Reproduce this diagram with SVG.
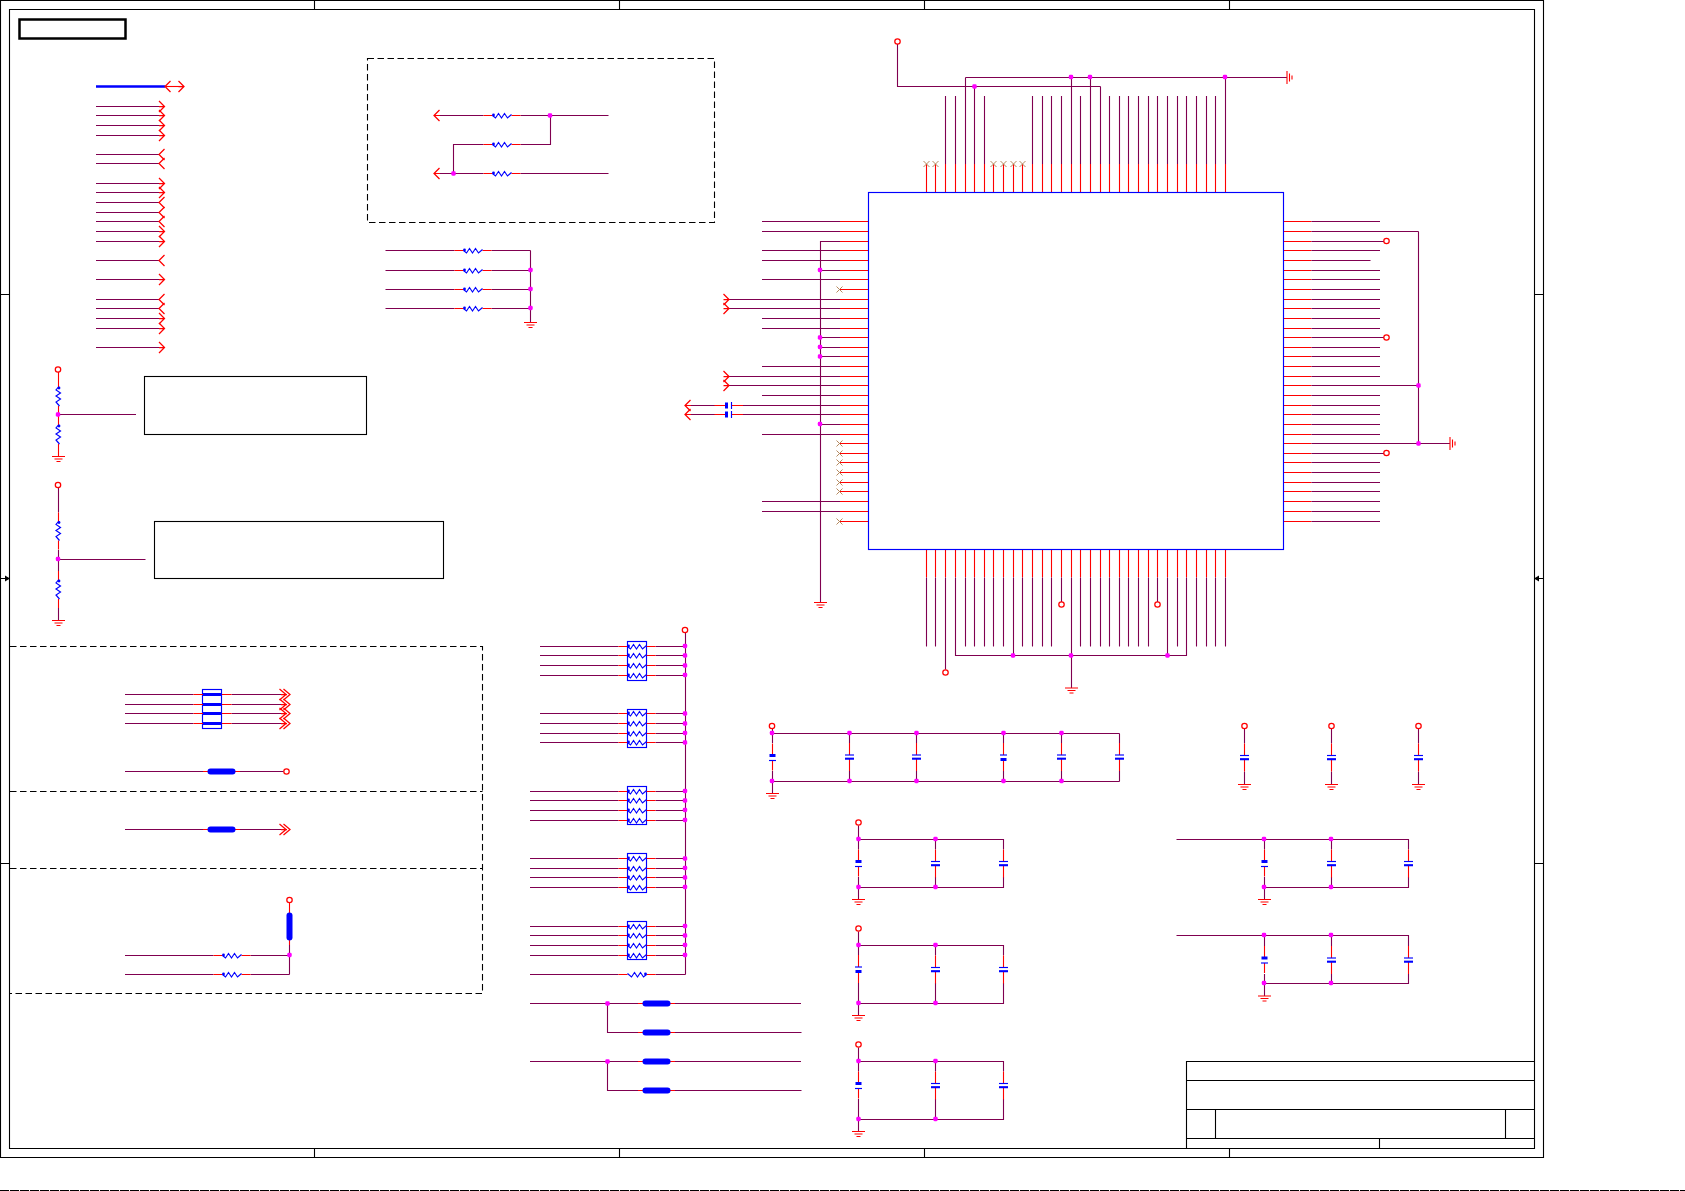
<svg xmlns="http://www.w3.org/2000/svg" xmlns:xlink="http://www.w3.org/1999/xlink" width="1685" height="1191" viewBox="0 0 1685 1191">
<style>
.w{fill:none;stroke:#800050;stroke-width:1.1}
.p{fill:none;stroke:#f00;stroke-width:1.1}
.b{fill:none;stroke:#00f;stroke-width:1.15}
.k{fill:none;stroke:#000;stroke-width:1.1}
.d{fill:none;stroke:#000;stroke-width:1.1;stroke-dasharray:6.5 3.5}
.j{fill:#f0f;stroke:none}
</style>
<defs>
<g id="res"><path class="p" d="M-9 0H0M19 0H28"/><path class="b" d="M0 0L3 2.5L6 -2L9 2.5L12 -2L15 2.5L19 -1"/><circle cx="1" cy="-.5" r="1.4" fill="#00f"/></g>
<g id="bead"><path class="p" d="M-6 0H0M25 0H31"/><path d="M1.5 0H23.5" fill="none" stroke="#00f" stroke-width="6" stroke-linecap="round"/></g>
<g id="bead2"><path class="p" d="M-9.5 0H0M19 0H28.5"/><path d="M0 0H19" fill="none" stroke="#00f" stroke-width="3"/></g>
<g id="capn"><path class="p" d="M0 -12V0M0 3.7V16"/><path class="b" d="M-4.5 0H4.5"/><path d="M-4.5 3.7H4.5" fill="none" stroke="#00f" stroke-width="2.1"/></g>
<g id="capp"><path class="p" d="M0 -12V0M0 5V15"/><path d="M-3 0H3" fill="none" stroke="#00f" stroke-width="3"/><path class="b" d="M-3.5 5H3.5"/></g>
<g id="capi"><path class="p" d="M0 -12V0M0 4.5V16"/><path class="b" d="M-3.5 0H3.5"/><path d="M-3 4.5H3" fill="none" stroke="#00f" stroke-width="3"/></g>
<g id="gnd"><path class="p" d="M-6.5 0H6.5M-4 2.5H4M-2 5H2"/></g>
<circle id="cir" r="2.7" fill="none" stroke="#f00" stroke-width="1.25"/>
<rect id="jn" x="-2.2" y="-2.2" width="4.4" height="4.4" rx="1.4" fill="#f0f"/>
<path id="x" d="M-3 -3L3 3M3 -3L-3 3" fill="none" stroke="#b58a60" stroke-width="1"/>
<g id="ar"><path class="p" style="stroke-width:1.25" d="M-5.5 -5.5L0 0L-5.5 5.5M-5.5 0H0"/></g>
<g id="al"><path class="p" style="stroke-width:1.25" d="M5.5 -5.5L0 0L5.5 5.5"/></g>
<g id="add"><path class="p" style="stroke-width:1.25" d="M-10.5 -5.5L-4 0L-10.5 5.5M-6.5 -5.5L0 0L-6.5 5.5M-9 0H-3"/></g>
</defs>
<rect width="1685" height="1191" fill="#fff"/>

<g id="frame">
<path class="k" d="M.5 .5H1543.5V1157.5H.5ZM9.5 9.5H1534.5V1148.5H9.5Z"/>
<path class="k" d="M314.5 0V10M619.5 0V10M924.5 0V10M1229.5 0V10M314.5 1148V1157M619.5 1148V1157M924.5 1148V1157M1229.5 1148V1157M0 294.5H10M0 863.5H10M0 578.5H10M1534 294.5H1543M1534 863.5H1543M1534 578.5H1543"/>
<path d="M5 575.5L10 578.5L5 581.5ZM1539 575.5L1534 578.5L1539 581.5Z" fill="#000"/>
<path d="M0 1190.5H1685" fill="none" stroke="#000" stroke-width="1" stroke-dasharray="9 1"/>
<rect x="19.5" y="19.5" width="106" height="19" fill="none" stroke="#000" stroke-width="2.5"/>
</g>

<g id="title-block">
<path class="k" d="M1186.5 1148V1061.5H1534M1186.5 1080.5H1534M1186.5 1109.5H1534M1186.5 1138.5H1534M1215.5 1109.5V1138.5M1505.5 1109.5V1138.5M1379.5 1138.5V1148"/>
</g>

<g id="note-boxes">
<rect class="k" x="144.5" y="376.5" width="222" height="58"/>
<rect class="k" x="154.5" y="521.5" width="289" height="57"/>
<path class="d" d="M367.5 58.5H714.5V222.5H367.5Z"/>
<path class="d" d="M10 646.5H482.5V993.5H10M10 791.5H482.5M10 868.5H482.5"/>
</g>

<g id="connectors">
<path d="M96 86.5H165" fill="none" stroke="#00f" stroke-width="2.5"/>
<path class="p" d="M165 86.5H184"/>
<path class="w" d="M96 106.5H159M96 115.5H159M96 125.5H159M96 135.5H159M96 154.5H159M96 163.5H159M96 183.5H159M96 192.5H159M96 202.5H159M96 212.5H159M96 221.5H159M96 231.5H159M96 241.5H159M96 260.5H159M96 279.5H159M96 299.5H159M96 308.5H159M96 318.5H159M96 328.5H159M96 347.5H159"/>
<path class="p" d="M434 115.5H440M434 173.5H440"/>
<path class="w" d="M440 115.5H483.5M520.5 115.5H608.5M453.5 173.5V144.5H483.5M520.5 144.5H550.5V115.5M440 173.5H483.5M520.5 173.5H608.5"/>
<path class="w" d="M385.5 250.5H454.5M491.5 250.5H530.5M385.5 270.5H454.5M491.5 270.5H530.5M385.5 289.5H454.5M491.5 289.5H530.5M385.5 308.5H454.5M491.5 308.5H530.5M530.5 250.5V322"/>
<path class="p" d="M840 221.5H868M840 231.5H868M840 241.5H868M840 250.5H868M840 260.5H868M840 270.5H868M840 279.5H868M840 289.5H868M840 299.5H868M840 308.5H868M840 318.5H868M840 328.5H868M840 337.5H868M840 347.5H868M840 356.5H868M840 366.5H868M840 376.5H868M840 385.5H868M840 395.5H868M840 405.5H868M840 414.5H868M840 424.5H868M840 434.5H868M840 443.5H868M840 453.5H868M840 462.5H868M840 472.5H868M840 482.5H868M840 491.5H868M840 501.5H868M840 511.5H868M840 521.5H868"/>
<path class="w" d="M762 221.5H840M762 231.5H840M820.5 241.5H840M762 250.5H840M762 260.5H840M820.5 270.5H840M762 279.5H840M729 299.5H840M729 308.5H840M762 318.5H840M762 328.5H840M820.5 337.5H840M820.5 347.5H840M820.5 356.5H840M762 366.5H840M729 376.5H840M729 385.5H840M762 395.5H840M743 405.5H840M743 414.5H840M820.5 424.5H840M762 434.5H840M762 501.5H840M762 511.5H840M820.5 241V602"/>
<path class="w" d="M691 405.5H715M691 414.5H715"/>
<path class="p" d="M685 405.5H691M685 414.5H691M715 405.5H726M715 414.5H726M731.5 405.5H743M731.5 414.5H743"/>
<path class="p" d="M926.5 192.5V164M935.5 192.5V164M945.5 192.5V164M955.5 192.5V164M965.5 192.5V164M974.5 192.5V164M984.5 192.5V164M993.5 192.5V164M1003.5 192.5V164M1013.5 192.5V164M1022.5 192.5V164M1032.5 192.5V164M1042.5 192.5V164M1051.5 192.5V164M1061.5 192.5V164M1071.5 192.5V164M1080.5 192.5V164M1090.5 192.5V164M1100.5 192.5V164M1109.5 192.5V164M1119.5 192.5V164M1128.5 192.5V164M1138.5 192.5V164M1148.5 192.5V164M1157.5 192.5V164M1167.5 192.5V164M1177.5 192.5V164M1186.5 192.5V164M1196.5 192.5V164M1206.5 192.5V164M1215.5 192.5V164M1225.5 192.5V164"/>
<path class="w" d="M945.5 164V96M955.5 164V96M965.5 164V77.5M974.5 164V86.5M984.5 164V96M1032.5 164V96M1042.5 164V96M1051.5 164V96M1061.5 164V96M1071.5 164V77.5M1080.5 164V96M1090.5 164V77.5M1100.5 164V86.5M1109.5 164V96M1119.5 164V96M1128.5 164V96M1138.5 164V96M1148.5 164V96M1157.5 164V96M1167.5 164V96M1177.5 164V96M1186.5 164V96M1196.5 164V96M1206.5 164V96M1215.5 164V96M1225.5 164V77.5M965.5 77.5H1287M897.5 44V86.5H1100.5"/>
<path class="p" d="M1284 221.5H1311.5M1284 231.5H1311.5M1284 241.5H1311.5M1284 250.5H1311.5M1284 260.5H1311.5M1284 270.5H1311.5M1284 279.5H1311.5M1284 289.5H1311.5M1284 299.5H1311.5M1284 308.5H1311.5M1284 318.5H1311.5M1284 328.5H1311.5M1284 337.5H1311.5M1284 347.5H1311.5M1284 356.5H1311.5M1284 366.5H1311.5M1284 376.5H1311.5M1284 385.5H1311.5M1284 395.5H1311.5M1284 405.5H1311.5M1284 414.5H1311.5M1284 424.5H1311.5M1284 434.5H1311.5M1284 443.5H1311.5M1284 453.5H1311.5M1284 462.5H1311.5M1284 472.5H1311.5M1284 482.5H1311.5M1284 491.5H1311.5M1284 501.5H1311.5M1284 511.5H1311.5M1284 521.5H1311.5"/>
<path class="w" d="M1311.5 221.5H1380M1311.5 231.5H1418.5M1311.5 241.5H1384M1311.5 250.5H1380M1311.5 260.5H1370.5M1311.5 270.5H1380M1311.5 279.5H1380M1311.5 289.5H1380M1311.5 299.5H1380M1311.5 308.5H1380M1311.5 318.5H1380M1311.5 328.5H1380M1311.5 337.5H1384M1311.5 347.5H1380M1311.5 356.5H1380M1311.5 366.5H1380M1311.5 376.5H1380M1311.5 385.5H1418.5M1311.5 395.5H1380M1311.5 405.5H1380M1311.5 414.5H1380M1311.5 424.5H1380M1311.5 434.5H1380M1311.5 443.5H1450M1311.5 453.5H1384M1311.5 462.5H1380M1311.5 472.5H1380M1311.5 482.5H1380M1311.5 491.5H1380M1311.5 501.5H1380M1311.5 511.5H1380M1311.5 521.5H1380M1418.5 231.5V443.5"/>
<path class="p" d="M926.5 549V577.5M935.5 549V577.5M945.5 549V577.5M955.5 549V577.5M965.5 549V577.5M974.5 549V577.5M984.5 549V577.5M993.5 549V577.5M1003.5 549V577.5M1013.5 549V577.5M1022.5 549V577.5M1032.5 549V577.5M1042.5 549V577.5M1051.5 549V577.5M1061.5 549V577.5M1071.5 549V577.5M1080.5 549V577.5M1090.5 549V577.5M1100.5 549V577.5M1109.5 549V577.5M1119.5 549V577.5M1128.5 549V577.5M1138.5 549V577.5M1148.5 549V577.5M1157.5 549V577.5M1167.5 549V577.5M1177.5 549V577.5M1186.5 549V577.5M1196.5 549V577.5M1206.5 549V577.5M1215.5 549V577.5M1225.5 549V577.5"/>
<path class="w" d="M926.5 577.5V646.5M935.5 577.5V646.5M945.5 577.5V669.5M955.5 577.5V655.5H1186.5V577.5M965.5 577.5V646.5M974.5 577.5V646.5M984.5 577.5V646.5M993.5 577.5V646.5M1003.5 577.5V646.5M1013.5 577.5V655.5M1022.5 577.5V646.5M1032.5 577.5V646.5M1042.5 577.5V646.5M1051.5 577.5V646.5M1061.5 577.5V602M1071.5 577.5V688M1080.5 577.5V646.5M1090.5 577.5V646.5M1100.5 577.5V646.5M1109.5 577.5V646.5M1119.5 577.5V646.5M1128.5 577.5V646.5M1138.5 577.5V646.5M1148.5 577.5V646.5M1157.5 577.5V602M1167.5 577.5V655.5M1177.5 577.5V646.5M1196.5 577.5V646.5M1206.5 577.5V646.5M1215.5 577.5V646.5M1225.5 577.5V646.5"/>
<path class="p" d="M58.5 372V378M58.5 414.5V416M58.5 453V456.5"/>
<path class="w" d="M58.5 414.5H136M58.5 488V512.5M58.5 550V571M58.5 608V620.5M58.5 559.5H145.5"/>
<path class="w" d="M540 646.5H618.5M540 655.5H618.5M540 665.5H618.5M540 675.5H618.5M540 713.5H618.5M540 723.5H618.5M540 733.5H618.5M540 742.5H618.5M530 791.5H618.5M530 800.5H618.5M530 810.5H618.5M530 820.5H618.5M530 858.5H618.5M530 868.5H618.5M530 877.5H618.5M530 887.5H618.5M530 926.5H618.5M530 935.5H618.5M530 945.5H618.5M530 955.5H618.5M530 974.5H618.5"/>
<path class="w" d="M655.5 646.5H685.5M655.5 655.5H685.5M655.5 665.5H685.5M655.5 675.5H685.5M655.5 713.5H685.5M655.5 723.5H685.5M655.5 733.5H685.5M655.5 742.5H685.5M655.5 791.5H685.5M655.5 800.5H685.5M655.5 810.5H685.5M655.5 820.5H685.5M655.5 858.5H685.5M655.5 868.5H685.5M655.5 877.5H685.5M655.5 887.5H685.5M655.5 926.5H685.5M655.5 935.5H685.5M655.5 945.5H685.5M655.5 955.5H685.5M655.5 974.5H685.5M685.5 633V974.5"/>
<path class="w" d="M530 1003.5H638M675 1003.5H801M607.5 1003.5V1032.5H638M675 1032.5H801.5M530 1061.5H638M675 1061.5H801M607.5 1061.5V1090.5H638M675 1090.5H801.5"/>
<path class="w" d="M125 694.5H193.5M231.5 694.5H281M125 704.5H193.5M231.5 704.5H281M125 713.5H193.5M231.5 713.5H281M125 723.5H193.5M231.5 723.5H281M125 771.5H203M240 771.5H283.5M125 829.5H203M240 829.5H281"/>
<path class="p" d="M289.5 903V908"/>
<path class="w" d="M125 955.5H213.5M250.5 955.5H289.5M125 974.5H213.5M250.5 974.5H289.5M289.5 945V974.5"/>
<path class="w" d="M772.5 729V743M772.5 771V793M772.5 733.5H1119.5M772.5 781.5H1119.5M849.5 733.5V743M849.5 771V781.5M916.5 733.5V743M916.5 771V781.5M1003.5 733.5V743M1003.5 771V781.5M1061.5 733.5V743M1061.5 771V781.5M1119.5 733.5V743M1119.5 771V781.5"/>
<path class="w" d="M1244.5 729V743.5M1244.5 771.5V784.5M1331.5 729V743.5M1331.5 771.5V784.5M1418.5 729V743.5M1418.5 771.5V784.5"/>
<path class="w" d="M858.5 825.5V849.5M858.5 877V899.5M858.5 839.5H1003.5V849.5M858.5 887.5H1003.5V877M935.5 839.5V849.5M935.5 877V887.5"/>
<path class="w" d="M858.5 931.5V955.5M858.5 983V1015.5M858.5 945.5H1003.5V955.5M858.5 1003.5H1003.5V983M935.5 945.5V955.5M935.5 983V1003.5"/>
<path class="w" d="M858.5 1047.5V1071.5M858.5 1099V1131.5M858.5 1061.5H1003.5V1071.5M858.5 1119.5H1003.5V1099M935.5 1061.5V1071.5M935.5 1099V1119.5"/>
<path class="w" d="M1176.5 839.5H1408.5V849.5M1264.5 839.5V849.5M1264.5 877V899.5M1264.5 887.5H1408.5V877M1331.5 839.5V849.5M1331.5 877V887.5"/>
<path class="w" d="M1176.5 935.5H1408.5V946M1264.5 935.5V946M1264.5 974V996M1264.5 983.5H1408.5V974M1331.5 935.5V946M1331.5 974V983.5"/>
</g>

<g id="U1">
<rect class="b" x="868.5" y="192.5" width="415" height="357"/>
<use href="#x" x="839.5" y="289.5"/><use href="#x" x="839.5" y="443.5"/><use href="#x" x="839.5" y="453.5"/><use href="#x" x="839.5" y="462.5"/><use href="#x" x="839.5" y="472.5"/><use href="#x" x="839.5" y="482.5"/><use href="#x" x="839.5" y="491.5"/><use href="#x" x="839.5" y="521.5"/>
<use href="#x" x="926.5" y="164"/><use href="#x" x="935.5" y="164"/><use href="#x" x="993.5" y="164"/><use href="#x" x="1003.5" y="164"/><use href="#x" x="1013.5" y="164"/><use href="#x" x="1022.5" y="164"/>
</g>

<g id="off-page-ports">
<use href="#al" x="165" y="86.5"/><use href="#ar" x="184" y="86.5"/>
<use href="#ar" x="164.5" y="106.5"/><use href="#ar" x="164.5" y="115.5"/><use href="#ar" x="164.5" y="125.5"/><use href="#ar" x="164.5" y="135.5"/>
<use href="#al" x="159" y="154.5"/><use href="#al" x="159" y="163.5"/>
<use href="#ar" x="164.5" y="183.5"/><use href="#ar" x="164.5" y="192.5"/>
<use href="#al" x="159" y="202.5"/><use href="#al" x="159" y="212.5"/><use href="#al" x="159" y="221.5"/>
<use href="#ar" x="164.5" y="231.5"/><use href="#ar" x="164.5" y="241.5"/>
<use href="#al" x="159" y="260.5"/><use href="#ar" x="164.5" y="279.5"/>
<use href="#al" x="159" y="299.5"/><use href="#al" x="159" y="308.5"/>
<use href="#ar" x="164.5" y="318.5"/><use href="#ar" x="164.5" y="328.5"/><use href="#ar" x="164.5" y="347.5"/>
<use href="#al" x="434" y="115.5"/><use href="#al" x="434" y="173.5"/>
<use href="#ar" x="729" y="299.5"/><use href="#ar" x="729" y="308.5"/><use href="#ar" x="729" y="376.5"/><use href="#ar" x="729" y="385.5"/>
<use href="#al" x="685" y="405.5"/><use href="#al" x="685" y="414.5"/>
<use href="#add" x="290" y="694.5"/><use href="#add" x="290" y="704.5"/><use href="#add" x="290" y="713.5"/><use href="#add" x="290" y="723.5"/><use href="#add" x="290" y="829.5"/>
</g>

<g id="power-pins">
<use href="#cir" x="58" y="369.5"/><use href="#cir" x="58" y="485"/><use href="#cir" x="897.5" y="41.5"/>
<use href="#cir" x="1386.5" y="241"/><use href="#cir" x="1386.5" y="337.5"/><use href="#cir" x="1386.5" y="453"/>
<use href="#cir" x="945.5" y="672.5"/><use href="#cir" x="1061.5" y="604.5"/><use href="#cir" x="1157.5" y="604.5"/>
<use href="#cir" x="685" y="630"/><use href="#cir" x="286.5" y="771.5"/><use href="#cir" x="289.5" y="900"/>
<use href="#cir" x="772" y="726"/><use href="#cir" x="1244.5" y="726"/><use href="#cir" x="1331.5" y="726"/><use href="#cir" x="1418.5" y="726"/>
<use href="#cir" x="858.5" y="822.5"/><use href="#cir" x="858.5" y="928.5"/><use href="#cir" x="858.5" y="1044.5"/>
</g>

<g id="grounds">
<use href="#gnd" x="530.5" y="322.5"/><use href="#gnd" x="58.5" y="456.5"/><use href="#gnd" x="58.5" y="620.5"/>
<use href="#gnd" x="820.5" y="602.5"/><use href="#gnd" x="1071.5" y="688"/><use href="#gnd" x="772.5" y="793.5"/>
<use href="#gnd" transform="translate(1287,77.5) rotate(-90)"/><use href="#gnd" transform="translate(1450,443.5) rotate(-90)"/>
<use href="#gnd" x="1244.5" y="784.5"/><use href="#gnd" x="1331.5" y="784.5"/><use href="#gnd" x="1418.5" y="784.5"/>
<use href="#gnd" x="858.5" y="899.5"/><use href="#gnd" x="858.5" y="1015.5"/><use href="#gnd" x="858.5" y="1131.5"/>
<use href="#gnd" x="1264.5" y="899.5"/><use href="#gnd" x="1264.5" y="996"/>
</g>

<g id="R1"><use href="#res" x="492.5" y="115.5"/></g>
<g id="R2"><use href="#res" x="492.5" y="144.5"/></g>
<g id="R3"><use href="#res" x="492.5" y="173.5"/></g>
<g id="R4"><use href="#res" x="463.5" y="250.5"/></g>
<g id="R5"><use href="#res" x="463.5" y="270.5"/></g>
<g id="R6"><use href="#res" x="463.5" y="289.5"/></g>
<g id="R7"><use href="#res" x="463.5" y="308.5"/></g>
<g id="R8"><use href="#res" transform="translate(58.5,387) rotate(90)"/></g>
<g id="R9"><use href="#res" transform="translate(58.5,425) rotate(90)"/></g>
<g id="R10"><use href="#res" transform="translate(58.5,521.5) rotate(90)"/></g>
<g id="R11"><use href="#res" transform="translate(58.5,580) rotate(90)"/></g>
<g id="R12"><use href="#res" x="222.5" y="955.5"/></g>
<g id="R13"><use href="#res" x="222.5" y="974.5"/></g>
<g id="R14"><use href="#res" transform="translate(646.5,974.5) scale(-1,1)"/></g>

<g id="RN1"><rect class="b" x="627.5" y="641.5" width="19" height="39"/><use href="#res" x="627.5" y="646.5"/><use href="#res" x="627.5" y="655.5"/><use href="#res" x="627.5" y="665.5"/><use href="#res" x="627.5" y="675.5"/></g>
<g id="RN2"><rect class="b" x="627.5" y="709.5" width="19" height="38"/><use href="#res" x="627.5" y="713.5"/><use href="#res" x="627.5" y="723.5"/><use href="#res" x="627.5" y="733.5"/><use href="#res" x="627.5" y="742.5"/></g>
<g id="RN3"><rect class="b" x="627.5" y="786.5" width="19" height="38"/><use href="#res" x="627.5" y="791.5"/><use href="#res" x="627.5" y="800.5"/><use href="#res" x="627.5" y="810.5"/><use href="#res" x="627.5" y="820.5"/></g>
<g id="RN4"><rect class="b" x="627.5" y="853.5" width="19" height="39"/><use href="#res" x="627.5" y="858.5"/><use href="#res" x="627.5" y="868.5"/><use href="#res" x="627.5" y="877.5"/><use href="#res" x="627.5" y="887.5"/></g>
<g id="RN5"><rect class="b" x="627.5" y="921.5" width="19" height="38"/><use href="#res" x="627.5" y="926.5"/><use href="#res" x="627.5" y="935.5"/><use href="#res" x="627.5" y="945.5"/><use href="#res" x="627.5" y="955.5"/></g>

<g id="FBN1"><rect class="b" x="202.5" y="689.5" width="19" height="39"/><use href="#bead2" x="203" y="694.5"/><use href="#bead2" x="203" y="704.5"/><use href="#bead2" x="203" y="713.5"/><use href="#bead2" x="203" y="723.5"/></g>
<g id="FB1"><use href="#bead" x="209" y="771.5"/></g>
<g id="FB2"><use href="#bead" x="209" y="829.5"/></g>
<g id="FB3"><use href="#bead" transform="translate(289.5,914) rotate(90)"/></g>
<g id="FB4"><use href="#bead" x="644" y="1003.5"/></g>
<g id="FB5"><use href="#bead" x="644" y="1032.5"/></g>
<g id="FB6"><use href="#bead" x="644" y="1061.5"/></g>
<g id="FB7"><use href="#bead" x="644" y="1090.5"/></g>

<g id="C1"><use href="#capp" transform="translate(726.5,405.5) rotate(-90)"/></g>
<g id="C2"><use href="#capp" transform="translate(726.5,414.5) rotate(-90)"/></g>
<g id="C3"><use href="#capp" x="772.5" y="755.5"/></g>
<g id="C4"><use href="#capn" x="849.5" y="755"/></g>
<g id="C5"><use href="#capn" x="916.5" y="755"/></g>
<g id="C6"><use href="#capi" x="1003.5" y="755"/></g>
<g id="C7"><use href="#capn" x="1061.5" y="755"/></g>
<g id="C8"><use href="#capn" x="1119.5" y="755"/></g>
<g id="C9"><use href="#capn" x="1244.5" y="755.5"/></g>
<g id="C10"><use href="#capn" x="1331.5" y="755.5"/></g>
<g id="C11"><use href="#capn" x="1418.5" y="755.5"/></g>
<g id="C12"><use href="#capp" x="858.5" y="861.5"/></g>
<g id="C13"><use href="#capn" x="935.5" y="861.5"/></g>
<g id="C14"><use href="#capn" x="1003.5" y="861.5"/></g>
<g id="C15"><use href="#capi" x="858.5" y="967"/></g>
<g id="C16"><use href="#capn" x="935.5" y="967.5"/></g>
<g id="C17"><use href="#capn" x="1003.5" y="967.5"/></g>
<g id="C18"><use href="#capp" x="858.5" y="1083.5"/></g>
<g id="C19"><use href="#capn" x="935.5" y="1083.5"/></g>
<g id="C20"><use href="#capn" x="1003.5" y="1083.5"/></g>
<g id="C21"><use href="#capp" x="1264.5" y="861.5"/></g>
<g id="C22"><use href="#capn" x="1331.5" y="861.5"/></g>
<g id="C23"><use href="#capn" x="1408.5" y="861.5"/></g>
<g id="C24"><use href="#capp" x="1264.5" y="958"/></g>
<g id="C25"><use href="#capn" x="1331.5" y="958"/></g>
<g id="C26"><use href="#capn" x="1408.5" y="958"/></g>

<g id="junctions">
<use href="#jn" x="550" y="115.5"/><use href="#jn" x="453.5" y="173.5"/>
<use href="#jn" x="530.5" y="270"/><use href="#jn" x="530.5" y="289"/><use href="#jn" x="530.5" y="308"/>
<use href="#jn" x="58" y="414.5"/><use href="#jn" x="58" y="559"/>
<use href="#jn" x="820" y="270"/><use href="#jn" x="820" y="337.5"/><use href="#jn" x="820" y="347"/><use href="#jn" x="820" y="356.5"/><use href="#jn" x="820" y="424"/>
<use href="#jn" x="974.5" y="86.5"/><use href="#jn" x="1071" y="77"/><use href="#jn" x="1090" y="77"/><use href="#jn" x="1225" y="77"/>
<use href="#jn" x="1418.5" y="385.5"/><use href="#jn" x="1418.5" y="443.5"/>
<use href="#jn" x="1013" y="655.5"/><use href="#jn" x="1071" y="655.5"/><use href="#jn" x="1167.5" y="655.5"/>
<use href="#jn" x="685" y="646"/><use href="#jn" x="685" y="655.5"/><use href="#jn" x="685" y="665.5"/><use href="#jn" x="685" y="675"/>
<use href="#jn" x="685" y="713.5"/><use href="#jn" x="685" y="723.5"/><use href="#jn" x="685" y="733"/><use href="#jn" x="685" y="742.5"/>
<use href="#jn" x="685" y="791"/><use href="#jn" x="685" y="800.5"/><use href="#jn" x="685" y="810"/><use href="#jn" x="685" y="820"/>
<use href="#jn" x="685" y="858.5"/><use href="#jn" x="685" y="868"/><use href="#jn" x="685" y="877.5"/><use href="#jn" x="685" y="887"/>
<use href="#jn" x="685" y="926"/><use href="#jn" x="685" y="935.5"/><use href="#jn" x="685" y="945"/><use href="#jn" x="685" y="955"/>
<use href="#jn" x="607.5" y="1003.5"/><use href="#jn" x="607.5" y="1061.5"/>
<use href="#jn" x="289.5" y="955"/>
<use href="#jn" x="772" y="733"/><use href="#jn" x="849.5" y="733"/><use href="#jn" x="916.5" y="733"/><use href="#jn" x="1003.5" y="733"/><use href="#jn" x="1061.5" y="733"/>
<use href="#jn" x="772" y="781"/><use href="#jn" x="849.5" y="781"/><use href="#jn" x="916.5" y="781"/><use href="#jn" x="1003.5" y="781"/><use href="#jn" x="1061.5" y="781"/>
<use href="#jn" x="858.5" y="839"/><use href="#jn" x="935.5" y="839"/><use href="#jn" x="858.5" y="887"/><use href="#jn" x="935.5" y="887"/>
<use href="#jn" x="858.5" y="945"/><use href="#jn" x="935.5" y="945"/><use href="#jn" x="858.5" y="1003"/><use href="#jn" x="935.5" y="1003"/>
<use href="#jn" x="858.5" y="1061"/><use href="#jn" x="935.5" y="1061"/><use href="#jn" x="858.5" y="1119"/><use href="#jn" x="935.5" y="1119"/>
<use href="#jn" x="1264" y="839"/><use href="#jn" x="1331" y="839"/><use href="#jn" x="1264" y="887"/><use href="#jn" x="1331" y="887"/>
<use href="#jn" x="1264" y="935"/><use href="#jn" x="1331" y="935"/><use href="#jn" x="1264" y="983"/><use href="#jn" x="1331" y="983"/>
</g>
</svg>
